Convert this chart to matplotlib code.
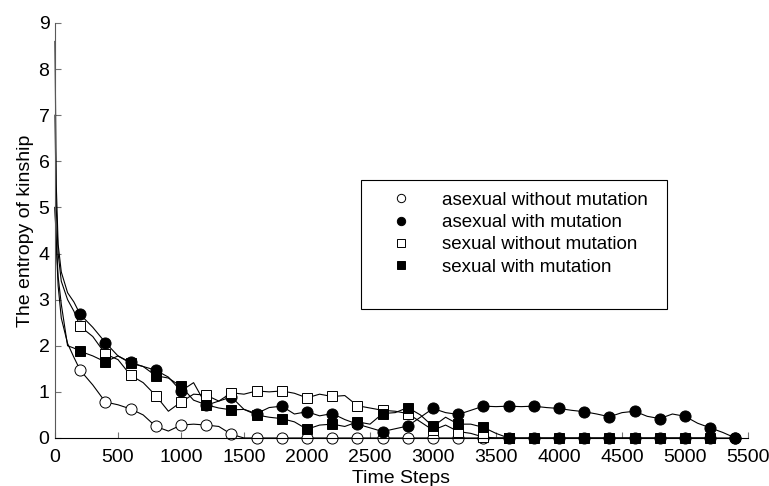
import numpy as np
import matplotlib
matplotlib.use('Agg')
import matplotlib.pyplot as plt
from matplotlib.lines import Line2D
from matplotlib.patches import Rectangle

plt.rcParams['font.family'] = ['Liberation Sans', 'DejaVu Sans']
plt.rcParams['font.size'] = 14

# time axis: a few early samples, then every 100 steps
t_early = [0, 10, 25, 50, 100, 150]
t_main = list(range(200, 5500, 100))
time_steps = np.array(t_early + t_main)

asexual_no_mut = [5.0, 4.2, 3.3, 2.6, 2.05, 1.75,
                  1.47, 1.15, 0.78, 0.72, 0.63, 0.50, 0.25, 0.15, 0.28, 0.30,
                  0.28, 0.25, 0.08, 0.0, 0.0, 0.0, 0.0, 0.0, 0.0, 0.0,
                  0.0, 0.0, 0.0, 0.0, 0.0, 0.0, 0.0, 0.0, 0.0, 0.0,
                  0.0, 0.0, 0.0, 0.0, 0.0, 0.0, 0.0, 0.0, 0.0, 0.0,
                  0.0, 0.0, 0.0, 0.0, 0.0, 0.0, 0.0, 0.0, 0.0, 0.0,
                  0.0, 0.0, 0.0]

asexual_mut = [8.6, 5.5, 4.2, 3.6, 3.15, 2.95,
               2.68, 2.40, 2.07, 1.78, 1.64, 1.55, 1.47, 1.32, 1.02, 1.20,
               0.71, 0.80, 0.89, 0.62, 0.53, 0.66, 0.69, 0.52, 0.57, 0.48,
               0.53, 0.40, 0.30, 0.22, 0.14, 0.20, 0.26, 0.45, 0.64, 0.55,
               0.51, 0.60, 0.69, 0.68, 0.69, 0.68, 0.69, 0.66, 0.64, 0.60,
               0.57, 0.52, 0.46, 0.55, 0.58, 0.47, 0.42, 0.52, 0.47, 0.32,
               0.22, 0.12, 0.0]

sexual_no_mut = [7.0, 5.0, 4.0, 3.4, 3.0, 2.75,
                 2.42, 2.20, 1.82, 1.70, 1.36, 1.20, 0.92, 0.58, 0.78, 0.95,
                 0.93, 0.80, 0.98, 0.95, 1.02, 1.00, 1.02, 0.97, 0.87, 0.95,
                 0.90, 0.92, 0.70, 0.65, 0.60, 0.58, 0.53, 0.35, 0.17, 0.28,
                 0.14, 0.10, 0.02, 0.0, 0.0]

sexual_mut = [5.0, 4.3, 3.5, 2.9, 2.0, 1.95,
              1.88, 1.78, 1.65, 1.78, 1.62, 1.55, 1.35, 1.30, 1.12, 0.82,
              0.72, 0.65, 0.61, 0.62, 0.50, 0.45, 0.42, 0.35, 0.19, 0.28,
              0.30, 0.25, 0.35, 0.30, 0.53, 0.55, 0.66, 0.50, 0.25, 0.45,
              0.30, 0.30, 0.23, 0.10, 0.0, 0.0, 0.0, 0.0, 0.0, 0.0,
              0.0, 0.0, 0.0, 0.0, 0.0, 0.0, 0.0, 0.0, 0.0, 0.0,
              0.0]

labels = ['asexual without mutation', 'asexual with mutation',
          'sexual without mutation', 'sexual with mutation']

series = [
    (asexual_no_mut, 'o', 'white', 8.0),
    (asexual_mut, 'o', 'black', 8.0),
    (sexual_no_mut, 's', 'white', 7.0),
    (sexual_mut, 's', 'black', 7.0),
]

fig = plt.figure(figsize=(7.69, 4.86), dpi=100)
ax = fig.add_axes([0.0715, 0.0988, 0.9012, 0.8539])

for vals, mk, face, ms in series:
    n = len(vals)
    x = time_steps[:n]
    marks = [i for i in range(n) if x[i] > 0 and x[i] % 200 == 0]
    ax.plot(x, vals, color='black', lw=0.8, marker=mk, markevery=marks,
            markersize=ms, markerfacecolor=face, markeredgecolor='black',
            markeredgewidth=0.7, clip_on=False)

ax.set_xlim(0, 5500)
ax.set_ylim(0, 9)
ax.set_xticks(np.arange(0, 5501, 500))
ax.set_yticks(np.arange(0, 10, 1))
ax.tick_params(direction='in', length=4, width=0.8, color='0.45')
ax.tick_params(axis='x', pad=8)
ax.tick_params(axis='y', pad=4)
for side in ['top', 'right']:
    ax.spines[side].set_visible(False)
ax.spines['left'].set_color('0.35')
ax.spines['bottom'].set_color('black')
ax.spines['left'].set_linewidth(0.8)
ax.spines['bottom'].set_linewidth(0.8)

ax.set_xlabel('Time Steps', labelpad=3)
ax.set_ylabel('The entropy of kinship', labelpad=3)

# legend frame is taller than the entries, so draw it separately
ax.add_patch(Rectangle((0.4416, 0.311), 0.4416, 0.3108, transform=ax.transAxes,
                       facecolor='white', edgecolor='black', lw=0.8, zorder=5))
handles = [Line2D([], [], ls='none', marker=mk, markersize=6,
                  markerfacecolor=face, markeredgecolor='black', markeredgewidth=0.7)
           for _, mk, face, _ in series]
leg = ax.legend(handles, labels, loc='upper left', bbox_to_anchor=(0.4798, 0.593),
                frameon=False, borderpad=0, handlelength=1.45, handletextpad=1.45,
                labelspacing=0.27, borderaxespad=0, fontsize=13.5)
leg.set_zorder(6)

fig.savefig('out.png', dpi=100)
